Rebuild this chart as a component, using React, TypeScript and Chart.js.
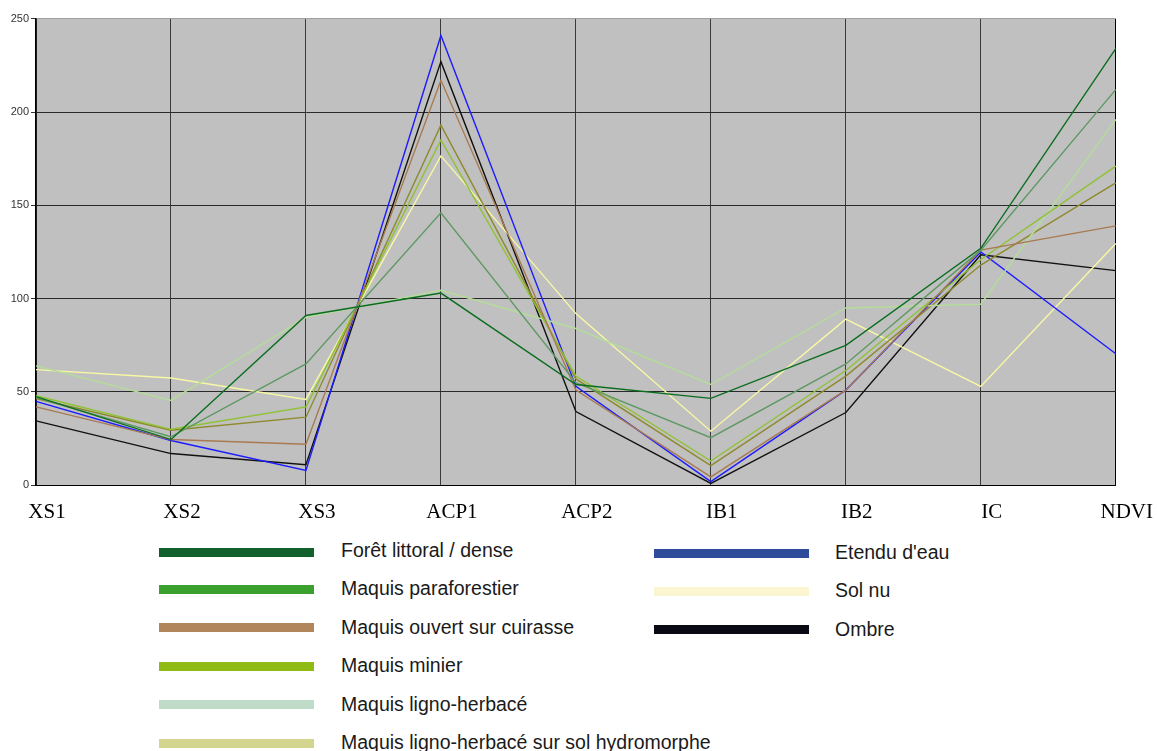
import React, { useEffect, useRef } from 'react';
import { Chart, registerables } from 'chart.js';

Chart.register(...registerables);

const categories = ['XS1', 'XS2', 'XS3', 'ACP1', 'ACP2', 'IB1', 'IB2', 'IC', 'NDVI'];
const yTicks = [0, 50, 100, 150, 200, 250];

const foretLittoral = [47.5, 24.5, 91, 103, 54, 46.6, 75, 127, 234];
const maquisParaforestier = [47, 26, 65, 146, 55, 25.5, 65, 126, 212];
const maquisOuvert = [42, 24.5, 22, 217, 51, 4.5, 51, 126, 139];
const maquisMinier = [48, 30, 42, 185, 58.5, 13, 61.5, 121, 171];
const lignoHerbace = [64, 45.5, 90, 104.5, 84, 54, 95, 97, 196];
const lignoHydromorphe = [46.5, 29.5, 36.5, 193, 57, 10.5, 58.5, 118, 162];
const etenduEau = [45, 24, 8, 241, 53, 2, 51, 125, 70.5];
const solNu = [62, 57.5, 46, 176.5, 92, 29, 89, 53, 129.5];
const ombre = [34.5, 17, 11, 227, 39.5, 1, 39, 123.5, 115];

const seriesNames = [
  'Forêt littoral / dense',
  'Maquis paraforestier',
  'Maquis ouvert sur cuirasse',
  'Maquis minier',
  'Maquis ligno-herbacé',
  'Maquis ligno-herbacé sur sol hydromorphe',
  "Etendu d'eau",
  'Sol nu',
  'Ombre',
];
const seriesValues = [
  foretLittoral,
  maquisParaforestier,
  maquisOuvert,
  maquisMinier,
  lignoHerbace,
  lignoHydromorphe,
  etenduEau,
  solNu,
  ombre,
];
const lineColors = [
  '#0b6e1f',
  '#5e9862',
  '#a87a50',
  '#8fc232',
  '#b4dc9a',
  '#8e8a2e',
  '#1c1cff',
  '#f8f8a4',
  '#111111',
];
const legendColors = [
  '#12612c',
  '#3aa12f',
  '#b0865a',
  '#8fbb14',
  '#bfdcc9',
  '#d3d48e',
  '#2e4c9a',
  '#fbf6cf',
  '#0a0a14',
];

const plotBg = {
  id: 'plotBg',
  beforeDraw(chart: any) {
    const { ctx, chartArea: a } = chart;
    ctx.save();
    ctx.fillStyle = '#c0c0c0';
    ctx.fillRect(a.left, a.top, a.right - a.left, a.bottom - a.top);
    ctx.restore();
  },
};

export default function App() {
  const ref = useRef<HTMLCanvasElement | null>(null);

  useEffect(() => {
    if (!ref.current) return;
    const chart = new Chart(ref.current, {
      type: 'line',
      data: {
        labels: categories,
        datasets: seriesNames.map((name, i) => ({
          label: name,
          data: seriesValues[i],
          borderColor: lineColors[i],
          backgroundColor: lineColors[i],
          borderWidth: 1.4,
          pointRadius: 0,
          tension: 0,
          fill: false,
        })),
      },
      options: {
        animation: false,
        responsive: false,
        devicePixelRatio: 1,
        layout: { padding: { top: 18.7, right: 39, left: 0, bottom: 0 } },
        plugins: {
          legend: { display: false },
          tooltip: { enabled: false },
        },
        scales: {
          x: {
            type: 'category',
            offset: false,
            grid: {
              offset: false,
              drawTicks: false,
              color: (c: any) => (c.index === categories.length - 1 ? '#000000' : '#3a3a3a'),
              lineWidth: 1,
            },
            border: { display: true, color: '#000000', width: 1 },
            ticks: {
              autoSkip: false,
              maxRotation: 0,
              minRotation: 0,
              labelOffset: 11,
              padding: 15,
              color: '#000000',
              font: { family: '"Liberation Serif", "Times New Roman", serif', size: 21 },
            },
            afterFit: (s: any) => {
              s.height = 530 - 485.3;
            },
          },
          y: {
            min: 0,
            max: 250,
            afterBuildTicks: (s: any) => {
              s.ticks = yTicks.map((v) => ({ value: v }));
            },
            grid: {
              color: (c: any) => (c.tick && c.tick.value === 250 ? '#a0a0a0' : '#2a2a2a'),
              tickColor: '#333333',
              tickLength: 5,
              lineWidth: 1,
            },
            border: { display: true, color: '#000000', width: 1.5 },
            ticks: {
              padding: 2,
              color: '#333333',
              font: { family: '"Liberation Sans", Arial, sans-serif', size: 11 },
            },
            afterFit: (s: any) => {
              s.width = 36;
            },
          },
        },
      },
      plugins: [plotBg],
    } as any);
    return () => chart.destroy();
  }, []);

  const legendFont = '"Liberation Sans", Arial, sans-serif';
  const leftCol = [0, 1, 2, 3, 4, 5];
  const rightCol = [6, 7, 8];
  const rowTop = 551;
  const rowStep = 38.4;

  const renderItem = (idx: number, row: number, barLeft: number, textLeft: number) => (
    <div key={idx}>
      <div
        style={{
          position: 'absolute',
          left: barLeft,
          top: rowTop + row * rowStep + (row === 0 && idx < 6 ? 1 : 0) - 4.5 + (idx >= 6 ? 2 : 0),
          width: 155,
          height: 9,
          background: legendColors[idx],
        }}
      />
      <div
        style={{
          position: 'absolute',
          left: textLeft,
          top: rowTop + row * rowStep - 13 + (idx >= 6 ? 2 : 0),
          fontFamily: legendFont,
          fontSize: 19.5,
          lineHeight: '24px',
          color: '#1a1a1a',
          whiteSpace: 'nowrap',
        }}
      >
        {seriesNames[idx]}
      </div>
    </div>
  );

  return (
    <div
      style={{
        position: 'absolute',
        left: 0,
        top: 0,
        width: 1157,
        height: 751,
        overflow: 'hidden',
        background: '#ffffff',
      }}
    >
      <canvas ref={ref} width={1157} height={530} style={{ position: 'absolute', left: 0, top: 0 }} />
      {leftCol.map((idx, row) => renderItem(idx, row, 159, 341))}
      {rightCol.map((idx, row) => renderItem(idx, row, 654, 835))}
    </div>
  );
}
